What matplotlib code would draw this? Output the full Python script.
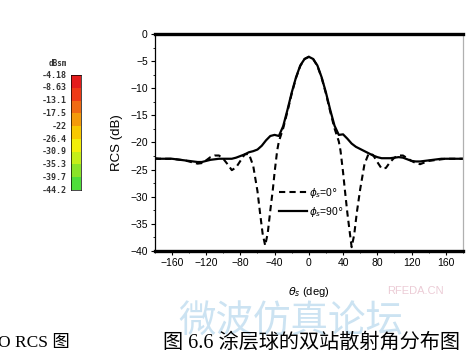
import numpy as np
import matplotlib
matplotlib.use('Agg')
import matplotlib.pyplot as plt
from matplotlib.colors import ListedColormap

plt.rcParams['font.family'] = ['Liberation Sans', 'Noto Sans CJK SC']

# scattering angle (deg) and RCS (dB), phi_s = 90 deg
theta_90 = [-180, -175, -170, -165, -160, -155, -150, -145, -140, -135, -130, -125,
            -120, -115, -110, -105, -100, -95, -90, -85, -80, -75, -70, -65, -60,
            -55, -50, -45, -40, -35, -30, -25, -20, -15, -10, -5, 0, 5, 10, 15, 20,
            25, 30, 35, 40, 45, 50, 55, 60, 65, 70, 75, 80, 85, 90, 95, 100, 105,
            110, 115, 120, 125, 130, 135, 140, 145, 150, 155, 160, 165, 170, 175, 180]
rcs_90 = [-23.0, -23.0, -23.0, -23.0, -23.0, -23.1, -23.2, -23.3, -23.4, -23.5, -23.6, -23.6,
          -23.4, -23.2, -23.1, -23.0, -23.0, -23.0, -23.0, -22.8, -22.5, -22.2, -21.8, -21.6, -21.3,
          -20.6, -19.6, -18.8, -18.6, -18.8, -17.0, -14.0, -10.8, -8.0, -5.8, -4.6, -4.2, -4.6, -5.8,
          -8.0, -10.8, -14.0, -16.9, -18.6, -18.5, -19.3, -20.2, -20.8, -21.2, -21.6, -22.0, -22.4,
          -22.7, -22.9, -22.9, -22.9, -22.8, -22.7, -22.8, -23.1, -23.4, -23.5, -23.5, -23.4, -23.3,
          -23.2, -23.1, -23.0, -23.0, -23.0, -23.0, -23.0, -23.0]

# phi_s = 0 deg
theta_0 = [-180, -175, -170, -165, -160, -155, -150, -145, -140, -135, -130, -125,
           -120, -115, -110, -105, -100, -95, -90, -85, -80, -75, -70, -65, -60,
           -57, -54, -51, -48, -45, -42, -40, -37, -35, -30, -25, -20, -15, -10, -5,
           0, 5, 10, 15, 20, 25, 30, 35, 37, 40, 42, 45, 48, 50, 53, 56, 60, 65,
           70, 75, 80, 85, 90, 95, 100, 105, 110, 115, 120, 125, 130, 135, 140,
           145, 150, 155, 160, 165, 170, 175, 180]
rcs_0 = [-22.9, -23.0, -23.0, -23.0, -23.0, -23.1, -23.2, -23.3, -23.5, -23.7, -23.9, -23.8,
         -23.3, -22.7, -22.4, -22.4, -23.0, -24.0, -25.1, -24.6, -23.4, -22.2, -22.1, -24.3, -29.0,
         -33.0, -36.8, -39.0, -36.7, -32.5, -28.6, -25.5, -21.5, -19.8, -17.4, -14.3, -11.0, -8.1,
         -5.9, -4.6, -4.2, -4.6, -5.9, -8.1, -11.0, -14.3, -17.4, -19.8, -21.5, -25.5, -28.6,
         -33.0, -36.8, -39.3, -37.0, -33.0, -28.6, -24.0, -22.0, -22.3, -23.6, -24.8, -24.7, -23.6,
         -22.8, -22.4, -22.4, -22.9, -23.4, -23.8, -24.0, -23.7, -23.4, -23.3, -23.2, -23.1, -23.0,
         -23.0, -23.0, -23.0, -23.0]

# colour scale of the 3D RCS plot (dBsm)
cbar_labels = ['-4.18', '-8.63', '-13.1', '-17.5', '-22', '-26.4', '-30.9', '-35.3', '-39.7', '-44.2']
cbar_colors = ['#e41c1c', '#ee3a16', '#f06a12', '#f49a0a', '#f8c800', '#f2ee08',
               '#c4ee18', '#8ae428', '#4ede3a']

x_ticks = [-160, -120, -80, -40, 0, 40, 80, 120, 160]
y_ticks = [0, -5, -10, -15, -20, -25, -30, -35, -40]

fig = plt.figure(figsize=(4.69, 3.58), dpi=100)
ax = fig.add_axes([0.330, 0.299, 0.657, 0.606])

ax.plot(theta_0, rcs_0, color='black', lw=1.5, ls=(0, (3, 2)), label=r'$\phi_s$=0$\degree$')
ax.plot(theta_90, rcs_90, color='black', lw=1.6, label=r'$\phi_s$=90$\degree$')

ax.set_xlim(-180, 180)
ax.set_ylim(-40, 0)
ax.set_xticks(x_ticks)
ax.set_yticks(y_ticks)
ax.set_xticks(np.arange(-180, 181, 20), minor=True)
ax.set_yticks(np.arange(-40, 0.1, 2.5), minor=True)
ax.tick_params(which='major', direction='out', length=3, width=0.8, labelsize=7.5, pad=2)
ax.tick_params(which='minor', direction='out', length=1.5, width=0.6)
for s in ['top', 'bottom']:
    ax.spines[s].set_linewidth(2.4)
ax.spines['left'].set_linewidth(0.9)
ax.spines['right'].set_linewidth(0.9)
ax.spines['right'].set_color('#b0b0b0')

ax.set_ylabel('RCS (dB)', fontsize=9.5, labelpad=5)
ax.set_xlabel(r'$\theta_s$ (deg)', fontsize=8, labelpad=12)

ax.legend(loc='upper left', bbox_to_anchor=(0.39, 0.32), frameon=False,
          fontsize=7.5, handlelength=2.7, handletextpad=0.2, labelspacing=0.5,
          borderaxespad=0)

# colour bar remnant on the left
cax = fig.add_axes([0.151, 0.469, 0.021, 0.321])
cmap = ListedColormap(cbar_colors)
cax.imshow(np.arange(len(cbar_colors))[:, None], cmap=cmap, aspect='auto',
           extent=[0, 1, 0, len(cbar_colors)], origin='upper')
cax.set_xticks([])
cax.set_yticks([])
for s in cax.spines.values():
    s.set_linewidth(0.5)
ys = np.linspace(1, 0, len(cbar_labels))
for lab, yy in zip(cbar_labels, ys):
    cax.text(-0.4, yy, lab, transform=cax.transAxes, ha='right', va='center',
             fontsize=6, family='DejaVu Sans Mono', fontweight='bold', color='#333333')
cax.text(-0.4, 1.06, 'dBsm', transform=cax.transAxes, ha='right', va='bottom',
         fontsize=5.5, family='DejaVu Sans Mono', fontweight='bold', color='#333333')

# watermark
fig.text(0.62, 0.10, '微波仿真论坛', fontsize=27, color='#cce3f2', ha='center', va='center',
         family=['Noto Sans CJK SC'], zorder=0)
fig.text(0.885, 0.188, 'RFEDA.CN', fontsize=8, color='#ecccd6', ha='center', va='center', zorder=0)

# captions
fig.text(-0.005, 0.042, 'O RCS 图', fontsize=12.5, ha='left', va='center',
         family=['Liberation Serif', 'Noto Sans CJK SC'])
fig.text(0.348, 0.042, '图 6.6 涂层球的双站散射角分布图', fontsize=14.5, ha='left', va='center',
         family=['Liberation Serif', 'Noto Sans CJK SC'])

fig.savefig('out.png', dpi=100)
